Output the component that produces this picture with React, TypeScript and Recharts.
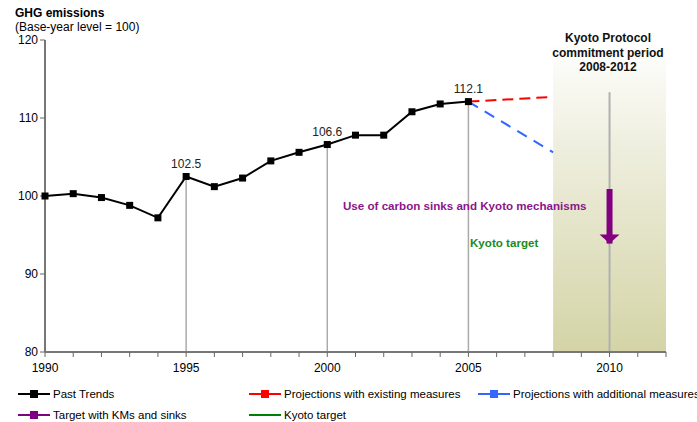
import {
  ComposedChart,
  Line,
  XAxis,
  YAxis,
  ReferenceArea,
  ReferenceLine,
} from "recharts";

// past trends (index, base year = 100)
const pastYears = [1990, 1991, 1992, 1993, 1994, 1995, 1996, 1997, 1998, 1999, 2000, 2001, 2002, 2003, 2004, 2005];
const pastValues = [100.0, 100.3, 99.8, 98.8, 97.2, 102.5, 101.2, 102.3, 104.5, 105.6, 106.6, 107.8, 107.8, 110.8, 111.8, 112.1];
const labelledYears = [1995, 2000, 2005];

// projections from 2005 to the start of the commitment period
const projYears = [2005, 2008];
const existingValues = [112.1, 112.7];
const additionalValues = [112.1, 105.6];

// target with KMs and sinks (arrow at 2010)
const kmsYears = [2010, 2010];
const kmsValues = [100.9, 93.9];

const periodStart = 2008;
const periodEnd = 2012;
const periodMarkYear = 2010;
const periodMarkTop = 113.3;

const xTicks = Array.from({ length: 23 }, (_, i) => 1990 + i);
const yTicks = [80, 90, 100, 110, 120];

const pastData = pastYears.map((year, i) => ({ year, value: pastValues[i] }));
const existingData = projYears.map((year, i) => ({ year, value: existingValues[i] }));
const additionalData = projYears.map((year, i) => ({ year, value: additionalValues[i] }));
const kmsData = kmsYears.map((year, i) => ({ year, value: kmsValues[i] }));

const FONT = "'Liberation Sans', Arial, sans-serif";

const legendRows = [
  [
    { name: "Past Trends", color: "#000000", square: true },
    { name: "Projections with existing measures", color: "#ff0000", square: true },
    { name: "Projections with additional measures", color: "#3366ff", square: true },
  ],
  [
    { name: "Target with KMs and sinks", color: "#800080", square: true },
    { name: "Kyoto target", color: "#008000", square: false },
  ],
];
const legendCols = [18, 249, 478];

const SquareDot = (props: any) => {
  const { cx, cy, index } = props;
  if (cx == null || cy == null) return <g key={`sq-${index}`} />;
  return <rect key={`sq-${index}`} x={cx - 3.5} y={cy - 3.5} width={7} height={7} fill="#000" />;
};

const ArrowHead = (props: any) => {
  const { cx, cy, index } = props;
  if (index !== 1 || cx == null) return <g key={`ah-${index}`} />;
  return (
    <path
      key={`ah-${index}`}
      d={`M${cx - 10},${cy - 9} L${cx + 10},${cy - 9} L${cx},${cy} Z`}
      fill="#800080"
    />
  );
};

const ValueLabel = (props: any) => {
  const { x, y, index } = props;
  const year = pastYears[index];
  if (!labelledYears.includes(year)) return <g key={`lb-${index}`} />;
  return (
    <text key={`lb-${index}`} x={x} y={y - 9} textAnchor="middle" fontSize={12} fill="#222" fontFamily={FONT}>
      {pastValues[index].toFixed(1)}
    </text>
  );
};

export default function App() {
  return (
    <div style={{ position: "absolute", left: 0, top: 0, width: 697, height: 422, background: "#fff", fontFamily: FONT, overflow: "hidden" }}>
      <ComposedChart width={697} height={422} margin={{ top: 40, right: 31, left: 0, bottom: 40 }}>
        <defs>
          <linearGradient id="kyotoFade" x1="0" y1="0" x2="0" y2="1">
            <stop offset="0%" stopColor="#ffffff" />
            <stop offset="35%" stopColor="#eeeede" />
            <stop offset="100%" stopColor="#d4d4a7" />
          </linearGradient>
        </defs>
        <ReferenceArea x1={periodStart} x2={periodEnd} y1={80} y2={120} fill="url(#kyotoFade)" fillOpacity={1} stroke="none" />
        <XAxis
          type="number"
          dataKey="year"
          domain={[1990, 2012]}
          ticks={xTicks}
          interval={0}
          tickFormatter={(v: number) => (v % 5 === 0 ? String(v) : "")}
          tick={{ fontSize: 12, fill: "#000", fontFamily: FONT }}
          tickSize={5}
          tickMargin={6}
          tickLine={{ stroke: "#666" }}
          axisLine={{ stroke: "#777", strokeWidth: 2 }}
          height={30}
          allowDuplicatedCategory={false}
        />
        <YAxis
          type="number"
          domain={[80, 120]}
          ticks={yTicks}
          interval={0}
          tick={{ fontSize: 12, fill: "#000", fontFamily: FONT }}
          tickSize={5}
          tickLine={{ stroke: "#666" }}
          axisLine={{ stroke: "#777", strokeWidth: 2 }}
          width={45}
        />
        {labelledYears.map((yr) => (
          <ReferenceLine
            key={`drop-${yr}`}
            segment={[
              { x: yr, y: 80 },
              { x: yr, y: pastValues[pastYears.indexOf(yr)] },
            ]}
            stroke="#aaa"
            strokeWidth={1.5}
          />
        ))}
        <ReferenceLine
          segment={[
            { x: periodMarkYear, y: 80 },
            { x: periodMarkYear, y: periodMarkTop },
          ]}
          stroke="#b0b0b0"
          strokeWidth={2}
        />
        <Line
          data={existingData}
          dataKey="value"
          stroke="#ff0000"
          strokeWidth={2}
          strokeDasharray="11 6"
          dot={false}
          isAnimationActive={false}
        />
        <Line
          data={additionalData}
          dataKey="value"
          stroke="#3366ff"
          strokeWidth={2}
          strokeDasharray="11 8"
          dot={false}
          isAnimationActive={false}
        />
        <Line
          data={pastData}
          dataKey="value"
          stroke="#000"
          strokeWidth={2}
          dot={SquareDot}
          label={ValueLabel}
          isAnimationActive={false}
        />
        <Line
          data={kmsData}
          dataKey="value"
          stroke="#800080"
          strokeWidth={6}
          dot={ArrowHead}
          isAnimationActive={false}
        />
      </ComposedChart>

      <div style={{ position: "absolute", left: 15, top: 6, fontSize: 12, fontWeight: "bold", color: "#000" }}>GHG emissions</div>
      <div style={{ position: "absolute", left: 15, top: 20, fontSize: 12, color: "#000" }}>(Base-year level = 100)</div>

      <div
        style={{
          position: "absolute",
          left: 548,
          width: 120,
          top: 31,
          fontSize: 12,
          fontWeight: "bold",
          textAlign: "center",
          lineHeight: "14.5px",
          color: "#111",
        }}
      >
        Kyoto Protocol
        <br />
        commitment period
        <br />
        2008-2012
      </div>

      <div style={{ position: "absolute", left: 343, top: 199, fontSize: 11.6, fontWeight: "bold", color: "#8b158b", whiteSpace: "nowrap" }}>
        Use of carbon sinks and Kyoto mechanisms
      </div>
      <div style={{ position: "absolute", left: 470, top: 236, fontSize: 11.6, fontWeight: "bold", color: "#1a8c1a", whiteSpace: "nowrap" }}>
        Kyoto target
      </div>

      {legendRows.map((row, r) =>
        row.map((item, c) => (
          <div
            key={item.name}
            style={{
              position: "absolute",
              left: legendCols[c],
              top: r === 0 ? 386 : 407,
              height: 16,
              display: "flex",
              alignItems: "center",
              whiteSpace: "nowrap",
              fontSize: 11.5,
              color: "#000",
            }}
          >
            <svg width={32} height={16} style={{ marginRight: 3 }}>
              <line x1={0} y1={8} x2={32} y2={8} stroke={item.color} strokeWidth={2} />
              {item.square && <rect x={12} y={4} width={8} height={8} fill={item.color} />}
            </svg>
            {item.name}
          </div>
        ))
      )}
    </div>
  );
}
